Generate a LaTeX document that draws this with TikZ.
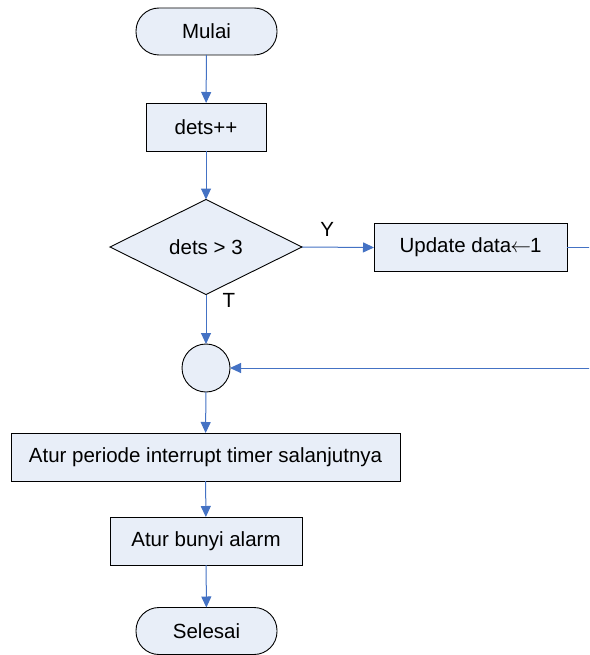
\documentclass[tikz,border=0pt]{standalone}
\usepackage{fontspec}
\setmainfont{Liberation Sans}
\usetikzlibrary{shapes.geometric,arrows.meta}
\definecolor{boxfill}{RGB}{232,238,248}
\definecolor{linkblue}{RGB}{68,114,196}
\begin{document}
\begin{tikzpicture}[x=1pt,y=-1pt,
  every node/.style={font=\fontsize{20.5}{24}\selectfont, outer sep=0pt, inner sep=0pt},
  term/.style={draw=black, line width=0.9pt, fill=boxfill, rounded corners=23pt, minimum width=141pt, minimum height=47pt},
  proc/.style={draw=black, line width=0.9pt, fill=boxfill, minimum height=48pt},
  dec/.style={draw=black, line width=0.9pt, fill=boxfill, diamond, minimum width=192pt, minimum height=95pt},
  junc/.style={draw=black, line width=0.9pt, fill=boxfill, circle, minimum size=48pt},
  link/.style={draw=linkblue, line width=1pt, -{Triangle[length=11pt,width=10pt]}},
  plain/.style={draw=linkblue, line width=1pt},
  lbl/.style={font=\fontsize{20.5}{24}\selectfont, anchor=center}]
\useasboundingbox (0,0) rectangle (589,655);
\clip (0,0) rectangle (589,655);
\fill[white] (0,0) rectangle (589,655);
\node[term] (start) at (206.5,31.5) {Mulai};
\node[proc, minimum width=120pt] (inc) at (206,127) {dets++};
\node[dec] (cond) at (206,247) {dets > 3};
\node[proc, minimum width=193pt] (upd) at (470.5,247.5) {Update data\kern-1pt$\leftarrow$\kern-1pt1};
\node[junc] (jn) at (206,368) {};
\node[proc, minimum width=389pt] (per) at (205.5,457) {Atur periode interrupt timer salanjutnya};
\node[proc, minimum width=192pt] (alarm) at (206,541) {Atur bunyi alarm};
\node[term] (stop) at (206.5,631) {Selesai};
\coordinate (offr) at (620,300);
\draw[link] (start) -- (inc);
\draw[link] (inc) -- (cond);
\draw[link] (cond.east) -- (upd.west) node[pos=0.35, lbl, yshift=18pt] {Y};
\draw[link] (cond.south) -- (jn.north) node[pos=0, lbl, xshift=23pt, yshift=-5.5pt] {T};
\draw[plain] (upd.east) -| (offr);
\draw[link] (offr) |- (jn.east);
\draw[link] (jn) -- (per);
\draw[link] (per) -- (alarm);
\draw[link] (alarm) -- (stop);
\end{tikzpicture}
\end{document}
